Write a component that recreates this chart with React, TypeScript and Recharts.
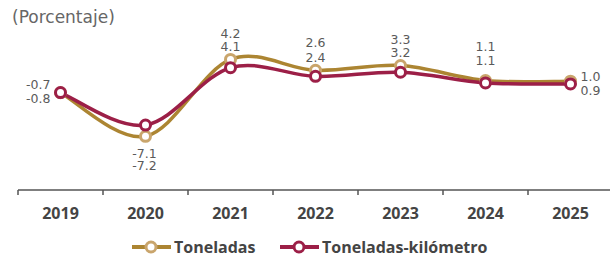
import React from "react";
import {LabelList, Line, LineChart, XAxis, YAxis} from "recharts";

const YEARS = ['2019', '2020', '2021', '2022', '2023', '2024', '2025'];
const TONELADAS = [-0.7, -7.1, 4.2, 2.6, 3.3, 1.1, 1.0];
const TON_KM = [-0.8, -7.2, 4.1, 2.4, 3.2, 1.1, 0.9];

const GOLD = '#AC8532';
const GOLD_MARK = '#C9A56C';
const WINE = '#9C1F47';
const TEXT = '#5a5a5a';
const BAND = 85;

const rows = YEARS.map((year, i) => ({
    x: i + 0.5,
    year,
    t: TONELADAS[i],
    k: TON_KM[i],
}));

// catmull-rom style curve, passes through points with a small overshoot
// @ts-ignore
const catmull = (context) => {
    let pts: number[][] = [];
    return {
        areaStart() {},
        areaEnd() {},
        lineStart() { pts = []; },
        point(x: number, y: number) { pts.push([x, y]); },
        lineEnd() {
            if (!pts.length) return;
            context.moveTo(pts[0][0], pts[0][1]);
            for (let i = 0; i < pts.length - 1; i++) {
                const p0 = pts[i - 1] || pts[i];
                const p1 = pts[i];
                const p2 = pts[i + 1];
                const p3 = pts[i + 2] || p2;
                context.bezierCurveTo(
                    p1[0] + (p2[0] - p0[0]) / 6, p1[1] + (p2[1] - p0[1]) / 6,
                    p2[0] - (p3[0] - p1[0]) / 6, p2[1] - (p3[1] - p1[1]) / 6,
                    p2[0], p2[1]);
            }
        },
    };
};

// where the pair of value labels goes around each point (relative to the gold point)
const LABEL_POS: { anchor: 'start' | 'middle' | 'end', dx: number, dy: [number, number] }[] = [
    {anchor: 'end', dx: -10, dy: [-8, 5.5]},
    {anchor: 'middle', dx: -1, dy: [17, 29]},
    {anchor: 'middle', dx: 0, dy: [-26, -13]},
    {anchor: 'middle', dx: 0, dy: [-27.5, -12.5]},
    {anchor: 'middle', dx: 0, dy: [-26, -12.7]},
    {anchor: 'middle', dx: 0, dy: [-34.5, -20.5]},
    {anchor: 'start', dx: 10, dy: [-5, 9]},
];

const fmt = (v: number) => v.toFixed(1);
const LABEL_FONT = '"DejaVu Sans", sans-serif';

// @ts-ignore
const renderPairLabel = ({x, y, index}) => {
    const p = LABEL_POS[index];
    return (
        <g fontFamily={LABEL_FONT} fontSize={12.5} fill={TEXT}>
            <text x={x + p.dx} y={y + p.dy[0]} textAnchor={p.anchor} dominantBaseline="central">
                {fmt(TONELADAS[index])}
            </text>
            <text x={x + p.dx} y={y + p.dy[1]} textAnchor={p.anchor} dominantBaseline="central">
                {fmt(TON_KM[index])}
            </text>
        </g>
    );
};

// @ts-ignore
const YearTick = ({x, y, payload}) => {
    if (payload.value >= YEARS.length) return null;
    return (
        <text x={x + BAND / 2} y={y} dy={22} textAnchor="middle" fontSize={16} fontWeight={700} fill="#444">
            {YEARS[payload.value]}
        </text>
    );
};

const LegendItem = ({x, color, mark, label}: { x: number, color: string, mark: string, label: string }) => (
    <g>
        <line x1={x} x2={x + 39} y1={14} y2={14} stroke={color} strokeWidth={4}/>
        <circle cx={x + 19} cy={14} r={5} fill="#fff" stroke={mark} strokeWidth={3}/>
        <text x={x + 42} y={14} dominantBaseline="central" fontSize={16} fontWeight={700} fill="#444">{label}</text>
    </g>
);

export default function App() {
    return (
        <div style={{
            position: 'absolute', left: 0, top: 0, width: 610, height: 256, overflow: 'hidden',
            fontFamily: '"Open Sans", sans-serif', background: '#fff'
        }}>
            <div style={{
                position: 'absolute', left: 12, top: 6, fontSize: 17, lineHeight: '22px', color: '#666',
                fontFamily: LABEL_FONT
            }}>(Porcentaje)</div>
            <LineChart width={616} height={256} data={rows} margin={{top: 20, right: 3, left: 18, bottom: 30}}>
                <XAxis dataKey="x" type="number" domain={[0, 7]} ticks={[0, 1, 2, 3, 4, 5, 6, 7]}
                       height={36} axisLine={{stroke: '#555', strokeWidth: 1.5}}
                       tickLine={{stroke: '#555', strokeWidth: 1.5}} tickSize={5} interval={0}
                       tick={<YearTick/>}/>
                <YAxis yAxisId="t" domain={[-15, 10]} hide/>
                <YAxis yAxisId="k" domain={[-20, 13.5]} hide/>
                <Line yAxisId="t" dataKey="t" type={catmull} stroke={GOLD} strokeWidth={3.5}
                      dot={{r: 5, fill: '#fff', stroke: GOLD_MARK, strokeWidth: 3}} activeDot={false}
                      isAnimationActive={false}>
                    <LabelList dataKey="t" content={renderPairLabel}/>
                </Line>
                <Line yAxisId="k" dataKey="k" type={catmull} stroke={WINE} strokeWidth={3.5}
                      dot={{r: 5, fill: '#fff', stroke: WINE, strokeWidth: 3}} activeDot={false}
                      isAnimationActive={false}/>
            </LineChart>
            <svg width={610} height={30} style={{position: 'absolute', left: 0, top: 233}}>
                <LegendItem x={132} color={GOLD} mark={GOLD_MARK} label="Toneladas"/>
                <LegendItem x={280} color={WINE} mark={WINE} label="Toneladas-kilómetro"/>
            </svg>
        </div>
    );
}
